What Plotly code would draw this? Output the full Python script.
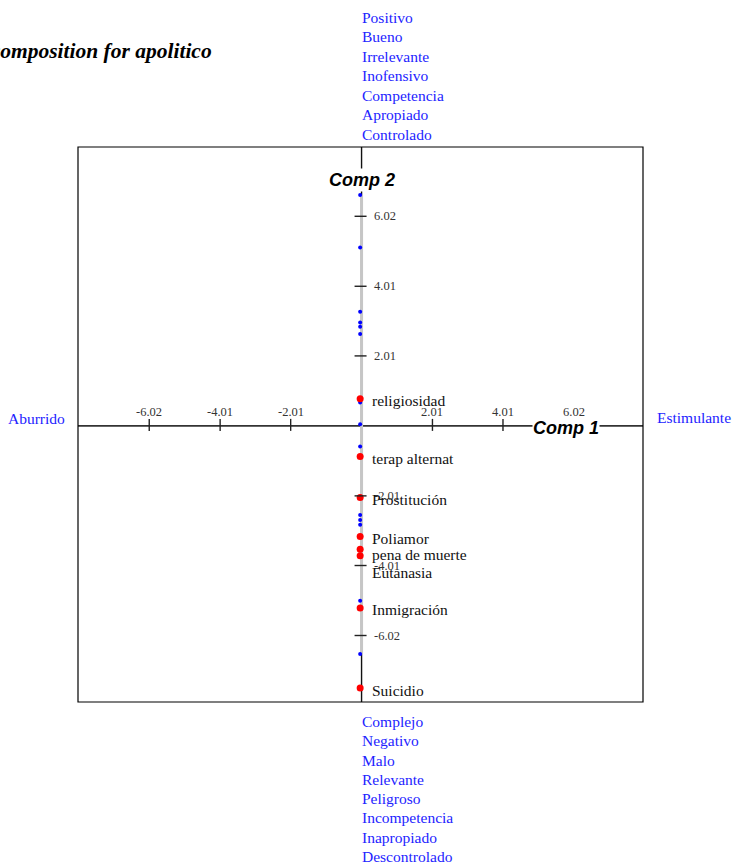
import plotly.graph_objects as go

# concepts (red) and attribute loadings (blue) on Comp 1 / Comp 2
concepts = ["religiosidad", "terap alternat", "Prostitución", "Poliamor",
            "pena de muerte", "Eutanasia", "Inmigración", "Suicidio"]
concept_c1 = [-0.04, -0.04, -0.04, -0.04, -0.04, -0.04, -0.04, -0.04]
concept_c2 = [0.78, -0.88, -2.06, -3.18, -3.54, -3.73, -5.23, -7.53]

attr_c1 = [-0.04] * 14
attr_c2 = [6.63, 5.12, 3.28, 2.97, 2.85, 2.64, 0.67, 0.05,
           -0.59, -2.56, -2.70, -2.84, -5.02, -6.55]

tick_vals = [-6.02, -4.01, -2.01, 2.01, 4.01, 6.02]
tick_text = ["-6.02", "-4.01", "-2.01", "2.01", "4.01", "6.02"]

top_poles = ["Positivo", "Bueno", "Irrelevante", "Inofensivo",
             "Competencia", "Apropiado", "Controlado"]
bottom_poles = ["Complejo", "Negativo", "Malo", "Relevante", "Peligroso",
                "Incompetencia", "Inapropiado", "Descontrolado"]
left_pole = "Aburrido"
right_pole = "Estimulante"

title = "Singular Value Decomposition for apolitico"

x_range = [-8.04, 7.98]
y_range = [-7.93, 8.01]

serif = "Liberation Serif, Times New Roman, serif"
sans = "Liberation Sans, Arial, sans-serif"
blue = "#2323ff"

fig = go.Figure()

# grey loading line
fig.add_trace(go.Scatter(
    x=[0, 0], y=[max(attr_c2), min(attr_c2)], mode="lines",
    line=dict(color="#c6c6c6", width=3), hoverinfo="skip"))

fig.add_trace(go.Scatter(
    x=attr_c1, y=attr_c2, mode="markers",
    marker=dict(color="blue", size=4), hoverinfo="skip"))

fig.add_trace(go.Scatter(
    x=concept_c1, y=concept_c2, mode="markers",
    marker=dict(color="red", size=7), hoverinfo="skip"))

shapes = []
# frame
shapes.append(dict(type="rect", xref="paper", yref="paper", x0=0, x1=1, y0=0, y1=1,
                   line=dict(color="black", width=1.2)))
# axes
shapes.append(dict(type="line", xref="x", yref="y", x0=x_range[0], x1=x_range[1], y0=0, y1=0,
                   line=dict(color="#333333", width=1.6), layer="below"))
shapes.append(dict(type="line", xref="x", yref="y", x0=0, x1=0, y0=y_range[0], y1=y_range[1],
                   line=dict(color="#111111", width=1.4), layer="below"))
# ticks
for t in tick_vals:
    shapes.append(dict(type="line", xref="x", yref="y", ysizemode="pixel", yanchor=0,
                       x0=t, x1=t, y0=-5, y1=7, line=dict(color="#222222", width=1.4)))
    shapes.append(dict(type="line", xref="x", yref="y", xsizemode="pixel", xanchor=0,
                       y0=t, y1=t, x0=-7, x1=5, line=dict(color="#222222", width=1.4)))
# green end marks
green = dict(color="#2e9b2e", width=2)
shapes.append(dict(type="line", xref="x", yref="y", xsizemode="pixel", xanchor=x_range[0],
                   x0=-6, x1=0, y0=0, y1=0, line=green))
shapes.append(dict(type="line", xref="x", yref="y", xsizemode="pixel", xanchor=x_range[1],
                   x0=0, x1=7, y0=0, y1=0, line=green))
shapes.append(dict(type="line", xref="x", yref="y", ysizemode="pixel", yanchor=y_range[1],
                   y0=0, y1=6, x0=0, x1=0, line=green))
shapes.append(dict(type="line", xref="x", yref="y", ysizemode="pixel", yanchor=y_range[0],
                   y0=-7, y1=0, x0=0, x1=0, line=green))

ann = []
for t, s in zip(tick_vals, tick_text):
    ann.append(dict(x=t, y=0, xref="x", yref="y", text=s, showarrow=False,
                    yshift=14, font=dict(family=serif, size=12.5, color="#333333")))
    ann.append(dict(x=0, y=t, xref="x", yref="y", text=s, showarrow=False,
                    xanchor="left", xshift=10, font=dict(family=serif, size=12.5, color="#333333")))

label_shift = {"pena de muerte": -5, "Eutanasia": -17}
for name, cx, cy in zip(concepts, concept_c1, concept_c2):
    ann.append(dict(x=cx, y=cy, xref="x", yref="y", text=name, showarrow=False,
                    xanchor="left", xshift=10, yshift=label_shift.get(name, -2),
                    font=dict(family=serif, size=15.5, color="#111111")))

for i, name in enumerate(top_poles):
    ann.append(dict(x=0, y=1, xref="x", yref="paper", text=name, showarrow=False,
                    xanchor="left", xshift=-2, yanchor="middle",
                    yshift=12.7 + 19.5 * (len(top_poles) - 1 - i),
                    font=dict(family=serif, size=15.5, color=blue)))
for i, name in enumerate(bottom_poles):
    ann.append(dict(x=0, y=0, xref="x", yref="paper", text=name, showarrow=False,
                    xanchor="left", xshift=-2, yanchor="middle",
                    yshift=-19.4 - 19.3 * i,
                    font=dict(family=serif, size=15.5, color=blue)))
ann.append(dict(x=0, y=0, xref="paper", yref="y", text=left_pole, showarrow=False,
                xanchor="right", xshift=-11, yshift=7,
                font=dict(family=serif, size=15.5, color=blue)))
ann.append(dict(x=1, y=0, xref="paper", yref="y", text=right_pole, showarrow=False,
                xanchor="left", xshift=12, yshift=8,
                font=dict(family=serif, size=15.5, color=blue)))

ann.append(dict(x=0, y=7.06, xref="x", yref="y", text="<b><i>Comp 2</i></b>", showarrow=False,
                bgcolor="white", font=dict(family=sans, size=18, color="black")))
ann.append(dict(x=5.79, y=0, xref="x", yref="y", text="<b><i>Comp 1</i></b>", showarrow=False,
                yshift=-2, bgcolor="white", borderpad=0,
                font=dict(family=sans, size=18, color="black")))

ann.append(dict(x=0.235, y=1.173, xref="paper", yref="paper", text="<b><i>" + title + "</i></b>",
                showarrow=False, xanchor="right", yanchor="middle", xshift=3,
                font=dict(family=serif, size=21.5, color="black")))

fig.update_layout(
    width=736, height=865,
    margin=dict(l=78, r=93, t=147, b=163),
    paper_bgcolor="white", plot_bgcolor="white",
    showlegend=False,
    shapes=shapes, annotations=ann,
)
fig.update_xaxes(range=x_range, visible=False)
fig.update_yaxes(range=y_range, visible=False)

fig.write_html("out.html", config={"displayModeBar": False},
               post_script="document.body.style.margin = '0';")
